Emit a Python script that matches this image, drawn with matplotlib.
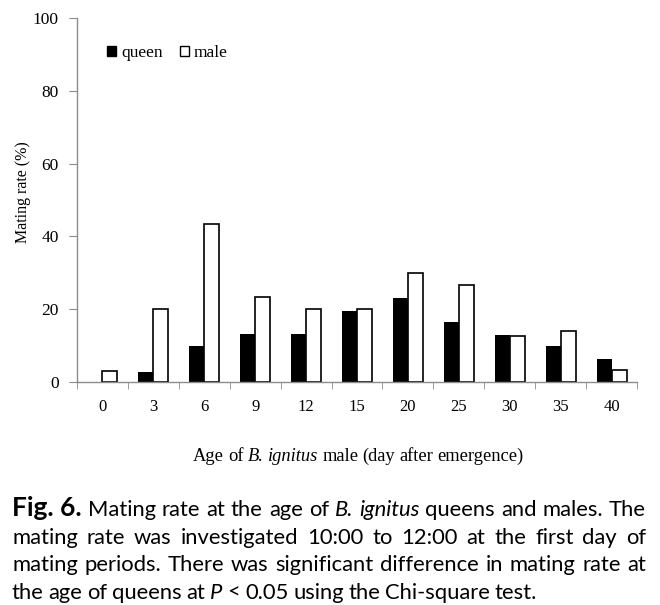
import matplotlib
matplotlib.use("Agg")
import matplotlib.pyplot as plt
from matplotlib.patches import Patch

# data
ages = ["0", "3", "6", "9", "12", "15", "20", "25", "30", "35", "40"]
queen = [0.0, 2.8, 10.0, 13.2, 13.2, 19.6, 23.2, 16.6, 13.0, 10.0, 6.4]
male = [3.0, 20.0, 43.3, 23.3, 20.0, 20.0, 29.9, 26.7, 12.7, 14.0, 3.3]

serif = ["Liberation Serif", "DejaVu Serif"]
sans = ["Lato", "Open Sans", "DejaVu Sans"]
grey = "#8c8c8c"
W, H = 660, 605

fig = plt.figure(figsize=(6.6, 6.05), dpi=100)
ax = fig.add_axes([77 / W, 1 - 382 / H, 560 / W, 364 / H])

xs = list(range(len(ages)))
w = 0.295
ax.bar([x - w / 2 for x in xs], queen, width=w, color="black", linewidth=0)
ax.bar([x + w / 2 for x in xs], male, width=w, color="white", edgecolor="black", linewidth=1.2)

ax.set_xlim(-0.5, len(ages) - 0.5)
ax.set_ylim(0, 100)
ax.set_yticks([0, 20, 40, 60, 80, 100])
ax.set_xticks(xs)
ax.set_xticklabels(ages, fontfamily=serif, fontsize=12)
ax.set_xticks([x - 0.5 for x in range(len(ages) + 1)], minor=True)
ax.tick_params(axis="x", which="major", length=0, pad=12)
ax.tick_params(axis="x", which="minor", length=5, color=grey, direction="out")
ax.tick_params(axis="y", length=6, color=grey, pad=7)
for lab in ax.get_yticklabels():
    lab.set_fontfamily(serif)
    lab.set_fontsize(12.5)

for s in ["top", "right"]:
    ax.spines[s].set_visible(False)
for s in ["left", "bottom"]:
    ax.spines[s].set_color(grey)
    ax.spines[s].set_linewidth(1.0)
    ax.spines[s].set_zorder(3)

fig.text(23 / W, 1 - 192 / H, "Mating rate (%)", rotation=90, ha="center", va="center",
         fontfamily=serif, fontsize=11.5)

handles = [Patch(facecolor="black", edgecolor="black", label="queen"),
           Patch(facecolor="white", edgecolor="black", label="male")]
fig.legend(handles=handles, loc="center left", bbox_to_anchor=(107 / W, 1 - 53 / H), ncol=2,
           frameon=False, borderpad=0, borderaxespad=0, handlelength=0.5, handleheight=0.5,
           handletextpad=0.3, columnspacing=1.0, prop={"family": serif, "size": 12.5})

fig.canvas.draw()
renderer = fig.canvas.get_renderer()


def make(seg, style, family, size):
    kw = dict(fontfamily=family, fontsize=size, va="baseline", ha="left")
    if style == "b":
        kw.update(fontweight="bold", fontsize=size * 1.2)
    if style == "i":
        kw.update(fontstyle="italic")
    return fig.text(0, 0, seg, **kw)


def width_of(t):
    return t.get_window_extent(renderer).width


def layout(words, baseline, family, size, x0, x1=None, gap_scale=0.85):
    objs, widths = [], []
    for word in words:
        parts = [make(seg, st, family, size) for seg, st in word]
        pw = [width_of(p) for p in parts]
        objs.append((parts, pw))
        widths.append(sum(pw))
    sp = make(" ", "n", family, size)
    space = width_of(sp) * gap_scale
    sp.remove()
    if x1 is not None:
        gap = (x1 - x0 - sum(widths)) / (len(words) - 1)
    else:
        gap = space
    x = x0
    y = 1 - baseline / H
    for parts, pw in objs:
        for p, wdt in zip(parts, pw):
            p.set_position((x / W, y))
            x += wdt
        x += gap
    return x - gap - x0


# x axis label with italic species name, fitted between x=193 and x=523
xlab = [[("Age", "n")], [("of", "n")], [("B.", "i")], [("ignitus", "i")], [("male", "n")],
        [("(day", "n")], [("after", "n")], [("emergence)", "n")]]
n_before = len(fig.texts)
probe = layout(xlab, 0, serif, 10, 0, gap_scale=0.9)
for t in list(fig.texts)[n_before:]:
    t.remove()
lab_size = 10 * (523 - 193) / probe
layout(xlab, 461, serif, lab_size, 193, gap_scale=0.9)

# caption, justified line by line
lines = [
    [[("Fig. 6.", "b")], [("Mating", "n")], [("rate", "n")], [("at", "n")], [("the", "n")], [("age", "n")],
     [("of", "n")], [("B.", "i")], [("ignitus", "i")], [("queens", "n")], [("and", "n")],
     [("males.", "n")], [("The", "n")]],
    [[(t, "n")] for t in "mating rate was investigated 10:00 to 12:00 at the first day of".split()],
    [[(t, "n")] for t in "mating periods. There was significant difference in mating rate at".split()],
    [[(t, "n")] for t in "the age of queens at".split()] + [[("P", "i")]]
    + [[(t, "n")] for t in "< 0.05 using the Chi-square test.".split()],
]
baselines = [516, 544, 571, 599]
x_left, x_right = 12, 646

# pick the caption size so the last (unjustified) line spans like the original
n_before = len(fig.texts)
probe = layout(lines[3], 0, sans, 10, 0)
for t in list(fig.texts)[n_before:]:
    t.remove()
cap_size = 10 * (537 - x_left) / probe

for li, (words, yb) in enumerate(zip(lines, baselines)):
    right = x_right if li < len(lines) - 1 else None
    layout(words, yb, sans, cap_size, x_left, right)

fig.savefig("out.png", dpi=100)
